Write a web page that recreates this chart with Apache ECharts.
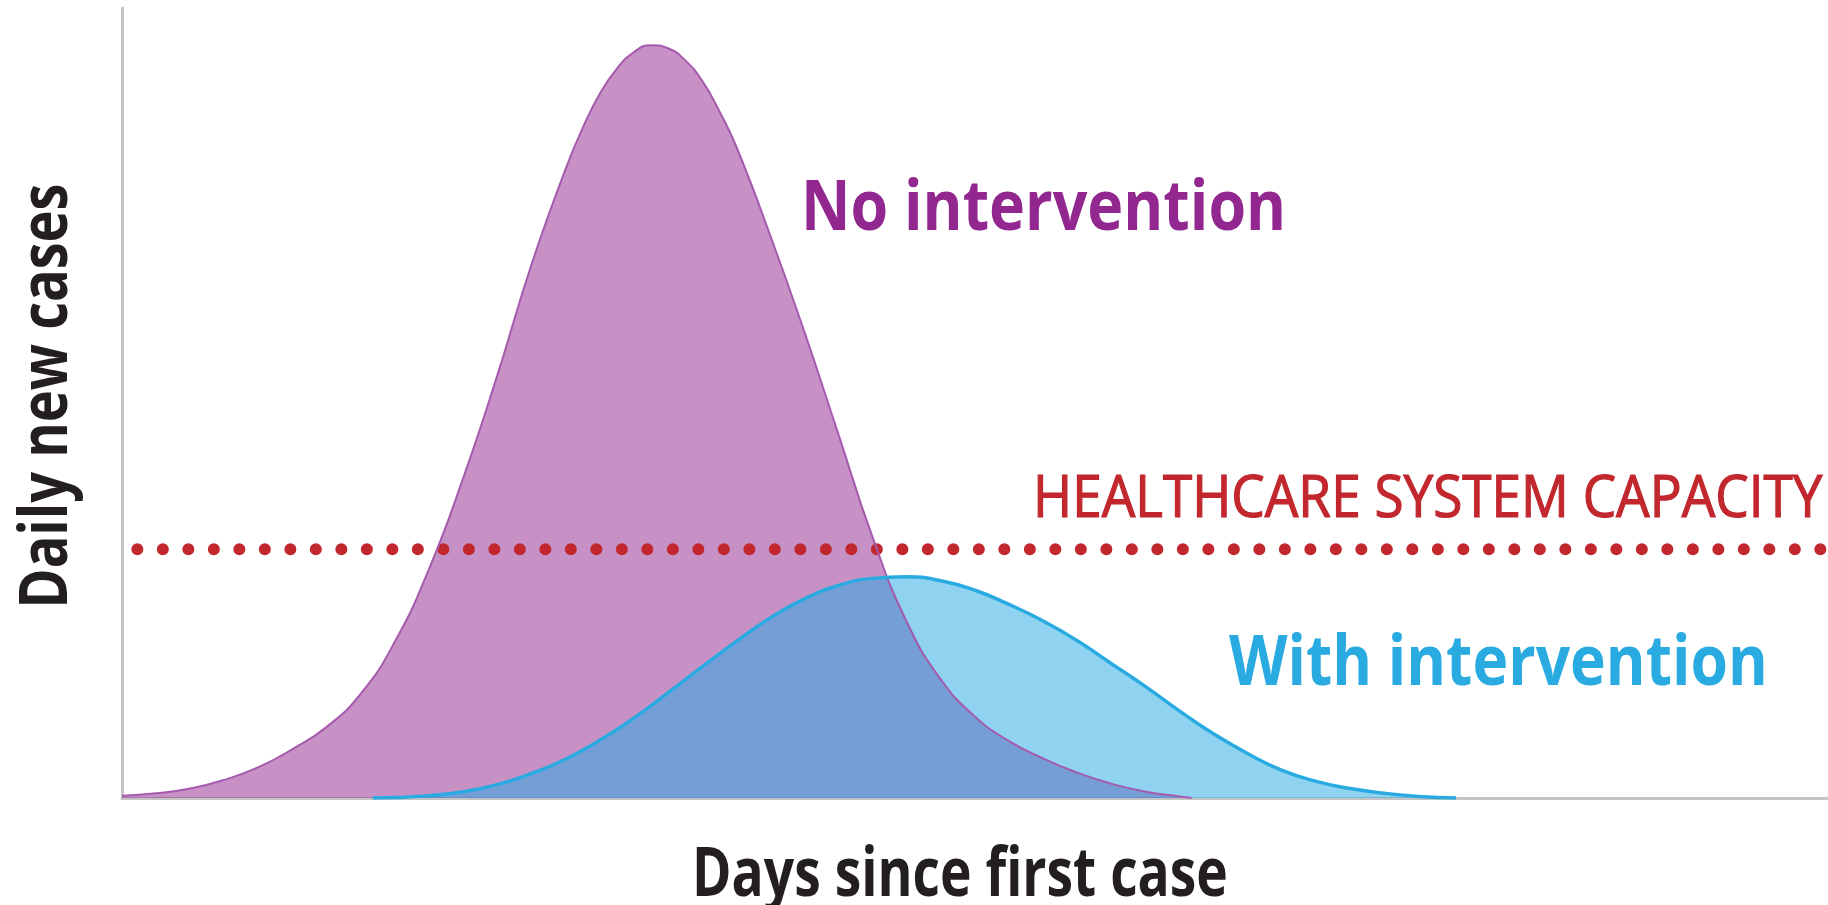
<!DOCTYPE html>
<html>
<head>
<meta charset="utf-8">
<script src="https://cdn.jsdelivr.net/npm/echarts@6/dist/echarts.min.js"></script>
<style>
  html, body { margin: 0; padding: 0; background: #fff; }
  #chart { width: 1828px; height: 905px; }
</style>
</head>
<body>
<div id="chart"></div>
<script>
// [day, daily new cases] (relative units 0-100)
var noIntervention = [
  [0, 0.3], [2, 0.6], [4, 1.2], [6, 2.3], [8, 3.9], [10, 6.2], [12, 9.0],
  [14, 13.2], [16, 19.8], [18, 29], [20, 40.5], [22, 53.5], [24, 67.5],
  [26, 79.6], [27, 84.8], [28, 89.1], [29, 92.3], [30, 94.4], [31, 95.3],
  [32, 94.9], [33, 93.4], [34, 90.8], [35, 87.0], [36, 82.5], [38, 71.2],
  [40, 59], [42, 46], [44, 33], [46, 22.3], [48, 15], [50, 10.3], [52, 7.2],
  [54, 5.0], [56, 3.2], [58, 1.8], [60, 0.8], [62, 0.2], [62.7, 0]
];
var withIntervention = [
  [14.7, 0], [16, 0.05], [18, 0.3], [20, 0.8], [22, 1.7], [24, 3.1], [26, 4.9],
  [28, 7.3], [30, 10.1], [32, 13.3], [34, 16.6], [36, 19.8], [38, 22.8],
  [40, 25.2], [42, 26.9], [44, 27.8], [46, 28.0], [48, 27.5], [50, 26.3],
  [52, 24.5], [54, 22.4], [56, 19.9], [58, 17.0], [60, 14.1], [62, 11.0],
  [64, 8.1], [66, 5.6], [68, 3.5], [70, 2.1], [72, 1.2], [74, 0.6], [76, 0.2], [78.2, 0]
];
var capacityLevel = 31.5;
var capacityRange = [0.9, 100];

var chartDom = document.getElementById('chart');
var myChart = echarts.init(chartDom, null, { renderer: 'canvas' });
var option;

option = {
  backgroundColor: '#ffffff',
  animation: false,
  grid: { left: 122, right: 0, top: 8, bottom: 107, containLabel: false },
  xAxis: {
    type: 'value', min: 0, max: 100,
    axisLine: { show: true, lineStyle: { color: '#c4c4c4', width: 3 } },
    axisTick: { show: false }, axisLabel: { show: false }, splitLine: { show: false }
  },
  yAxis: {
    type: 'value', min: 0, max: 100,
    axisLine: { show: true, lineStyle: { color: '#c4c4c4', width: 3 } },
    axisTick: { show: false }, axisLabel: { show: false }, splitLine: { show: false }
  },
  series: [
    {
      name: 'Healthcare system capacity',
      type: 'line',
      data: capacityRange.map(function (d) { return [d, capacityLevel]; }),
      showSymbol: false,
      lineStyle: { color: '#c1272d', width: 12, type: [0, 25.5], cap: 'round' }
    },
    {
      name: 'No intervention',
      type: 'line',
      data: noIntervention,
      smooth: 0.5,
      showSymbol: false,
      lineStyle: { color: '#a55aae', width: 2 },
      areaStyle: { color: '#92278f', opacity: 0.51 }
    },
    {
      name: 'With intervention',
      type: 'line',
      data: withIntervention,
      smooth: 0.5,
      showSymbol: false,
      lineStyle: { color: '#29abe2', width: 3.5 },
      areaStyle: { color: '#29abe2', opacity: 0.52 }
    }
  ],
  graphic: [
    {
      type: 'text', x: 801, y: 210, scaleX: 0.87,
      style: { text: 'No intervention', fill: '#92278f', font: 'bold 70px "Open Sans"',
        textAlign: 'left', textVerticalAlign: 'middle' }
    },
    {
      type: 'text', x: 1033, y: 500, scaleX: 0.9,
      style: { text: 'HEALTHCARE SYSTEM CAPACITY', fill: '#c1272d', font: '59px "Open Sans"',
        stroke: '#c1272d', lineWidth: 1.2, textAlign: 'left', textVerticalAlign: 'middle' }
    },
    {
      type: 'text', x: 1229, y: 665, scaleX: 0.865,
      style: { text: 'With intervention', fill: '#29abe2', font: 'bold 70px "Open Sans"',
        textAlign: 'left', textVerticalAlign: 'middle' }
    },
    {
      type: 'text', x: 960, y: 877, scaleX: 0.785,
      style: { text: 'Days since first case', fill: '#231f20', font: 'bold 68px "Open Sans"',
        textAlign: 'center', textVerticalAlign: 'middle' }
    },
    {
      type: 'text', x: 48, y: 396, scaleX: 0.82, rotation: Math.PI / 2,
      style: { text: 'Daily new cases', fill: '#231f20', font: 'bold 66px "Open Sans"',
        textAlign: 'center', textVerticalAlign: 'middle' }
    }
  ]
};

option && myChart.setOption(option);
</script>
</body>
</html>
